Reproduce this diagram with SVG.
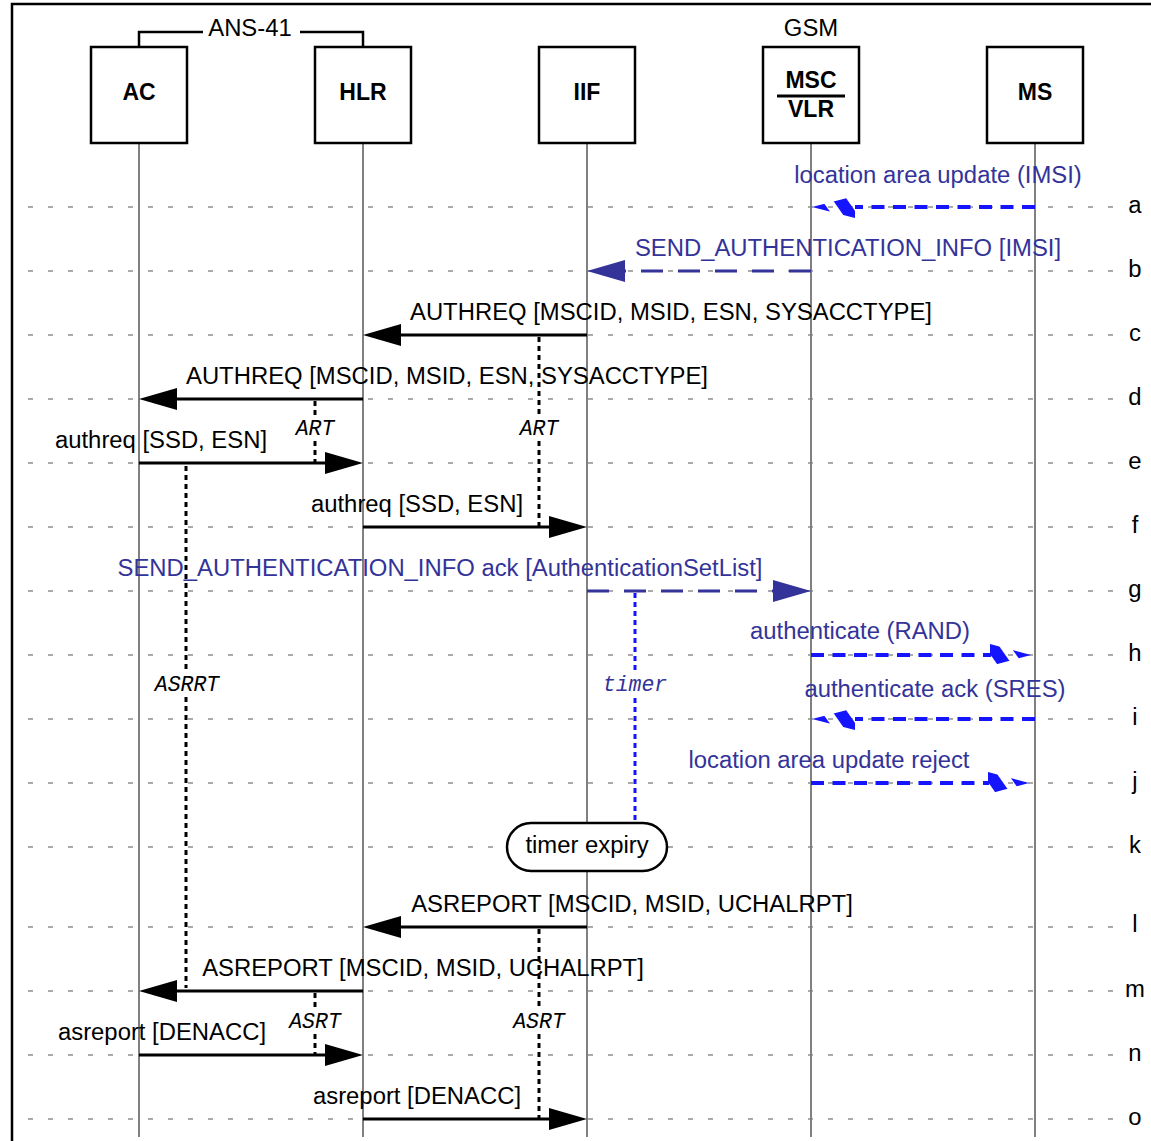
<svg xmlns="http://www.w3.org/2000/svg" width="1151" height="1141" viewBox="0 0 1151 1141">
<style>
text{font-family:"Liberation Sans",Arial,sans-serif;font-size:23.85px;fill:#000}
.b{font-weight:bold;text-anchor:middle;font-size:23px}
.m{text-anchor:middle}
.blue{fill:#333399}
.t{font-family:"Liberation Mono","Courier New",monospace;font-style:italic;font-size:21.5px;text-anchor:middle}
.box{fill:#fff;stroke:#000;stroke-width:2.5}
.life{stroke:#808080;stroke-width:2}
.grid{stroke:#555;stroke-width:1;stroke-dasharray:5 15}
.msg{stroke:#000;stroke-width:3;fill:none}
.head{fill:#000}
.dd{stroke:#333399;stroke-width:3;stroke-dasharray:22 15;fill:none}
.ddh{fill:#333399}
.hb{stroke:#1414ff;stroke-width:4;stroke-dasharray:13 8.5;fill:none}
.hl{fill:url(#hatchL)}
.hr{fill:url(#hatchR)}
.tim{stroke:#000;stroke-width:3;stroke-dasharray:5 4;fill:none}
.timb{stroke:#1414ff;stroke-width:3;stroke-dasharray:5 4;fill:none}
</style>
<defs>
<pattern id="hatchL" width="21" height="21" patternUnits="userSpaceOnUse" patternTransform="rotate(-35)">
<rect x="0" y="0" width="12" height="21" fill="#1414ff"/>
</pattern>
<pattern id="hatchR" width="21" height="21" patternUnits="userSpaceOnUse" patternTransform="rotate(-35)">
<rect x="9" y="0" width="12" height="21" fill="#1414ff"/>
</pattern>
<polygon id="headL" points="0,0 43,-11 43,11"/>
<polygon id="headR" points="0,0 -41,-11 -41,11"/>
</defs>
<rect x="12" y="4" width="1160" height="1160" fill="none" stroke="#000" stroke-width="2.5"/>
<g id="grid">
<line class="grid" x1="28" y1="207" x2="1115" y2="207"/>
<line class="grid" x1="28" y1="271" x2="1115" y2="271"/>
<line class="grid" x1="28" y1="335" x2="1115" y2="335"/>
<line class="grid" x1="28" y1="399" x2="1115" y2="399"/>
<line class="grid" x1="28" y1="463" x2="1115" y2="463"/>
<line class="grid" x1="28" y1="527" x2="1115" y2="527"/>
<line class="grid" x1="28" y1="591" x2="1115" y2="591"/>
<line class="grid" x1="28" y1="655" x2="1115" y2="655"/>
<line class="grid" x1="28" y1="719" x2="1115" y2="719"/>
<line class="grid" x1="28" y1="783" x2="1115" y2="783"/>
<line class="grid" x1="28" y1="847" x2="1115" y2="847"/>
<line class="grid" x1="28" y1="927" x2="1115" y2="927"/>
<line class="grid" x1="28" y1="991" x2="1115" y2="991"/>
<line class="grid" x1="28" y1="1055" x2="1115" y2="1055"/>
<line class="grid" x1="28" y1="1119" x2="1115" y2="1119"/>
<text x="1135" y="213" class="m">a</text>
<text x="1135" y="277" class="m">b</text>
<text x="1135" y="341" class="m">c</text>
<text x="1135" y="405" class="m">d</text>
<text x="1135" y="469" class="m">e</text>
<text x="1135" y="533" class="m">f</text>
<text x="1135" y="597" class="m">g</text>
<text x="1135" y="661" class="m">h</text>
<text x="1135" y="725" class="m">i</text>
<text x="1135" y="789" class="m">j</text>
<text x="1135" y="853" class="m">k</text>
<text x="1135" y="932" class="m">l</text>
<text x="1135" y="997" class="m">m</text>
<text x="1135" y="1061" class="m">n</text>
<text x="1135" y="1125" class="m">o</text>
</g>
<g id="lifelines">
<line class="life" x1="139" y1="143" x2="139" y2="1137"/>
<line class="life" x1="363" y1="143" x2="363" y2="1137"/>
<line class="life" x1="587" y1="143" x2="587" y2="1137"/>
<line class="life" x1="811" y1="143" x2="811" y2="1137"/>
<line class="life" x1="1035" y1="143" x2="1035" y2="1137"/>
</g>
<g id="groups">
<polyline points="139,47 139,32 203,32" fill="none" stroke="#000" stroke-width="2.5"/>
<polyline points="300,32 363,32 363,47" fill="none" stroke="#000" stroke-width="2.5"/>
<text x="250" y="36" class="m">ANS-41</text>
<text x="811" y="36" class="m">GSM</text>
</g>
<g id="AC"><rect class="box" x="91" y="47" width="96" height="96"/><text x="139" y="100" class="b">AC</text></g>
<g id="HLR"><rect class="box" x="315" y="47" width="96" height="96"/><text x="363" y="100" class="b">HLR</text></g>
<g id="IIF"><rect class="box" x="539" y="47" width="96" height="96"/><text x="587" y="100" class="b">IIF</text></g>
<g id="MSCVLR"><rect class="box" x="763" y="47" width="96" height="96"/><text x="811" y="88" class="b">MSC</text><line x1="777" y1="96" x2="845" y2="96" stroke="#000" stroke-width="3"/><text x="811" y="117" class="b">VLR</text></g>
<g id="MS"><rect class="box" x="987" y="47" width="96" height="96"/><text x="1035" y="100" class="b">MS</text></g>
<g id="timers">
<line class="tim" x1="539" y1="337" x2="539" y2="417"/>
<line class="tim" x1="539" y1="441" x2="539" y2="527"/>
<text x="539" y="435" class="t">ART</text>
<line class="tim" x1="315" y1="401" x2="315" y2="417"/>
<line class="tim" x1="315" y1="441" x2="315" y2="463"/>
<text x="315" y="435" class="t">ART</text>
<line class="tim" x1="186" y1="466" x2="186" y2="672"/>
<line class="tim" x1="186" y1="697" x2="186" y2="988"/>
<text x="187" y="691" class="t">ASRRT</text>
<line class="timb" x1="635" y1="593" x2="635" y2="674"/>
<line class="timb" x1="635" y1="698" x2="635" y2="823"/>
<text x="635" y="691" class="t blue">timer</text>
<line class="tim" x1="539" y1="929" x2="539" y2="1009"/>
<line class="tim" x1="539" y1="1034" x2="539" y2="1119"/>
<text x="539" y="1028" class="t">ASRT</text>
<line class="tim" x1="315" y1="993" x2="315" y2="1009"/>
<line class="tim" x1="315" y1="1034" x2="315" y2="1055"/>
<text x="315" y="1028" class="t">ASRT</text>
</g>
<g id="timer-expiry"><rect class="box" x="507" y="823" width="160" height="48" rx="24" ry="24" stroke-width="1.5"/><text x="587" y="853" class="m">timer expiry</text></g>
<g id="connectors">
<line class="hb" x1="1035" y1="207" x2="855" y2="207"/>
<use href="#headL" class="hl" transform="translate(812,207)"/>
<text x="938" y="183" class="m blue">location area update (IMSI)</text>
<line class="dd" x1="811" y1="271" x2="625" y2="271"/>
<polygon class="ddh" points="587,271 625,260 625,282"/>
<text x="848" y="256" class="m blue">SEND_AUTHENTICATION_INFO [IMSI]</text>
<line class="msg" x1="587" y1="335" x2="400" y2="335"/>
<polygon class="head" points="363,335 401,324 401,346"/>
<text x="671" y="320" class="m">AUTHREQ [MSCID, MSID, ESN, SYSACCTYPE]</text>
<line class="msg" x1="363" y1="399" x2="176" y2="399"/>
<polygon class="head" points="139,399 177,388 177,410"/>
<text x="447" y="384" class="m">AUTHREQ [MSCID, MSID, ESN, SYSACCTYPE]</text>
<line class="msg" x1="139" y1="463" x2="326" y2="463"/>
<polygon class="head" points="363,463 325,452 325,474"/>
<text x="161" y="448" class="m">authreq [SSD, ESN]</text>
<line class="msg" x1="363" y1="527" x2="550" y2="527"/>
<polygon class="head" points="587,527 549,516 549,538"/>
<text x="417" y="512" class="m">authreq [SSD, ESN]</text>
<line class="dd" x1="587" y1="591" x2="773" y2="591"/>
<polygon class="ddh" points="811,591 773,580 773,602"/>
<text x="440" y="576" class="m blue">SEND_AUTHENTICATION_INFO ack [AuthenticationSetList]</text>
<line class="hb" x1="811" y1="655" x2="991" y2="655"/>
<use href="#headR" class="hr" transform="translate(1031,655)"/>
<text x="860" y="639" class="m blue">authenticate (RAND)</text>
<line class="hb" x1="1035" y1="719" x2="855" y2="719"/>
<use href="#headL" class="hl" transform="translate(812,719)"/>
<text x="935" y="697" class="m blue">authenticate ack (SRES)</text>
<line class="hb" x1="811" y1="783" x2="989" y2="783"/>
<use href="#headR" class="hr" transform="translate(1029,783)"/>
<text x="829" y="768" class="m blue">location area update reject</text>
<line class="msg" x1="587" y1="927" x2="400" y2="927"/>
<polygon class="head" points="363,927 401,916 401,938"/>
<text x="632" y="912" class="m">ASREPORT [MSCID, MSID, UCHALRPT]</text>
<line class="msg" x1="363" y1="991" x2="176" y2="991"/>
<polygon class="head" points="139,991 177,980 177,1002"/>
<text x="423" y="976" class="m">ASREPORT [MSCID, MSID, UCHALRPT]</text>
<line class="msg" x1="139" y1="1055" x2="326" y2="1055"/>
<polygon class="head" points="363,1055 325,1044 325,1066"/>
<text x="162" y="1040" class="m">asreport [DENACC]</text>
<line class="msg" x1="363" y1="1119" x2="550" y2="1119"/>
<polygon class="head" points="587,1119 549,1108 549,1130"/>
<text x="417" y="1104" class="m">asreport [DENACC]</text>
</g>
</svg>
